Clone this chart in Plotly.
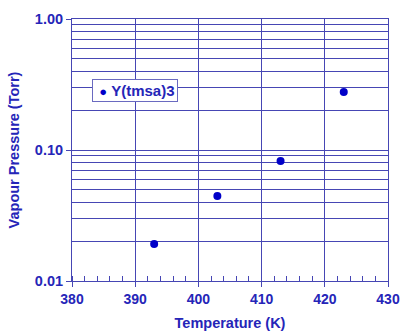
import plotly.graph_objects as go

temps = [393, 403, 413, 423]
pressures = [0.0192, 0.0445, 0.0825, 0.277]
series_name = "Y(tmsa)3"
y_major = [0.01, 0.1, 1.0]
y_major_text = ["0.01", "0.10", "1.00"]
y_minor = [m * d for d in [0.01, 0.1] for m in range(2, 10)]
x_ticks = [380, 390, 400, 410, 420, 430]

blue_text = "#2525b8"
grid = "#4646b4"
marker_color = "#0000c8"

fig = go.Figure()
fig.add_trace(go.Scatter(
    x=temps, y=pressures, mode="markers", name=series_name,
    marker=dict(color=marker_color, size=8), showlegend=False,
))

# legend box (drawn as an annotation to match the compact original legend)
fig.add_annotation(
    xref="paper", yref="paper", x=0.064, y=0.772, xanchor="left", yanchor="top",
    text=f"&nbsp;<span style='color:{marker_color};font-size:13px'>●</span>&nbsp;{series_name}",
    showarrow=False, bgcolor="white", bordercolor="#6a6ac0", borderwidth=1, borderpad=2,
    font=dict(size=15, color=blue_text, weight="bold"),
)

fig.update_layout(
    width=401, height=331,
    margin=dict(l=72, r=13, t=19, b=50),
    paper_bgcolor="white", plot_bgcolor="white",
    font=dict(family="Liberation Sans, Arial, sans-serif", size=14, color=blue_text, weight="bold"),
    xaxis=dict(
        range=[380, 430], tickvals=x_ticks, automargin=False,
        ticks="outside", ticklen=5, tickcolor=grid,
        showgrid=True, gridcolor=grid, gridwidth=1,
        showline=True, linecolor=grid, linewidth=1, mirror=True,
        zeroline=False,
        minor=dict(dtick=2, tick0=380, ticks="inside", ticklen=5, tickcolor=grid, showgrid=False),
        title=dict(text="Temperature (K)", standoff=12, font=dict(size=14.5, color=blue_text, weight="bold")),
        tickfont=dict(size=14, color=blue_text, weight="bold"),
    ),
    yaxis=dict(
        type="log", range=[-2, 0], automargin=False,
        tickvals=y_major, ticktext=y_major_text,
        ticks="outside", ticklen=5, tickcolor=grid,
        showgrid=True, gridcolor=grid, gridwidth=1,
        showline=True, linecolor=grid, linewidth=1, mirror=True,
        zeroline=False,
        minor=dict(tickvals=y_minor, showgrid=True, gridcolor=grid, gridwidth=1, ticks=""),
        title=dict(text="Vapour Pressure (Torr)", standoff=11, font=dict(size=14.5, color=blue_text, weight="bold")),
        tickfont=dict(size=14.5, color=blue_text, weight="bold"),
    ),
)

fig.write_html("out.html")
